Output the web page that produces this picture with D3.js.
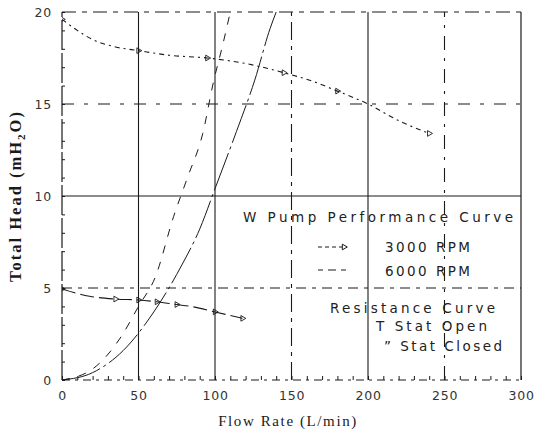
<!DOCTYPE html>
<html><head><meta charset="utf-8">
<script src="https://cdn.jsdelivr.net/npm/d3@7"></script>
<style>
body{margin:0;background:#fff;}
svg{display:block;}
</style></head>
<body>
<svg id="chart" width="535" height="436"></svg>
<script>
// ---- data ----
const xTicks = [0, 50, 100, 150, 200, 250, 300];
const yTicks = [0, 5, 10, 15, 20];

// Upper pump curve (short dash) — legend "3000 RPM"
const pumpUpperFlow = [0, 10, 20, 35, 50, 70, 95, 120, 145, 165, 180, 200, 220, 240];
const pumpUpperHead = [19.6, 19.0, 18.5, 18.1, 17.9, 17.65, 17.5, 17.2, 16.7, 16.2, 15.7, 15.0, 14.1, 13.4];
// Lower pump curve (long dash) — legend "6000 RPM"
const pumpLowerFlow = [0, 18, 35, 50, 62, 75, 84, 100, 118];
const pumpLowerHead = [4.95, 4.55, 4.4, 4.35, 4.25, 4.1, 4.0, 3.7, 3.35];
// Resistance curves
const openFlow = [0, 20, 40, 60, 78, 90, 100, 114, 126, 136, 140];
const openHead = [0, 0.4, 1.6, 3.7, 6.2, 8.2, 10.4, 13.5, 16.3, 19.1, 20];
const closedFlow = [0, 20, 39, 50, 61, 73, 82, 92, 99, 105, 110];
const closedHead = [0, 0.6, 2.4, 4.0, 5.6, 8.9, 11.0, 13.4, 16.2, 18.2, 20];

const legendTitle = "W Pump Performance Curve";
const legendSeries = ["3000 RPM", "6000 RPM"];
const legendRes = ["Resistance Curve", "T Stat Open", "\u201D Stat Closed"];

// ---- layout ----
const svg = d3.select("#chart");
const M = {left: 62, right: 521, top: 12, bottom: 380};
const x = d3.scaleLinear().domain([0, 300]).range([M.left, M.right]);
const y = d3.scaleLinear().domain([0, 20]).range([M.bottom, M.top]);
const ink = "#1a1a1a";

// grid
const g = svg.append("g");
const vStyle = {50: null, 100: null, 150: "18,6,4,6", 200: null, 250: "14,8,3,8"};
[50, 100, 150, 200, 250].forEach(v => {
  g.append("line").attr("x1", x(v)).attr("x2", x(v)).attr("y1", y(0)).attr("y2", y(20))
    .attr("stroke", ink).attr("stroke-width", 1.1)
    .attr("stroke-dasharray", vStyle[v]);
});
const hStyle = {5: "10,6,4,6", 10: null, 15: "12,10,4,10", 20: "14,6,5,6"};
[5, 10, 15, 20].forEach(v => {
  g.append("line").attr("x1", x(0)).attr("x2", x(300)).attr("y1", y(v)).attr("y2", y(v))
    .attr("stroke", ink).attr("stroke-width", 1.1)
    .attr("stroke-dasharray", hStyle[v]);
});
// axes frame
g.append("line").attr("x1", x(0)).attr("x2", x(0)).attr("y1", y(0)).attr("y2", y(20))
  .attr("stroke", ink).attr("stroke-width", 1.2).attr("stroke-dasharray", "30,3");
g.append("line").attr("x1", x(300)).attr("x2", x(300)).attr("y1", y(0)).attr("y2", y(20))
  .attr("stroke", ink).attr("stroke-width", 1.2);
g.append("line").attr("x1", x(0)).attr("x2", x(300)).attr("y1", y(0)).attr("y2", y(0))
  .attr("stroke", ink).attr("stroke-width", 1.1).attr("stroke-dasharray", "8,5,3,5");

// minor ticks via axes (inward)
const xMinor = d3.axisBottom(x).tickValues(d3.range(0, 301, 10)).tickSize(-4).tickFormat("");
svg.append("g").attr("transform", `translate(0,${y(0)})`).call(xMinor)
  .call(a => a.select(".domain").remove())
  .call(a => a.selectAll("line").attr("stroke", ink).attr("stroke-width", 1));
const yMinor = d3.axisLeft(y).tickValues(d3.range(0, 21, 1)).tickSize(-3).tickFormat("");
svg.append("g").attr("transform", `translate(${x(0)},0)`).call(yMinor)
  .call(a => a.select(".domain").remove())
  .call(a => a.selectAll("line").attr("stroke", ink).attr("stroke-width", 1));

// tick labels via axes
const xAxis = d3.axisBottom(x).tickValues(xTicks).tickSize(0).tickPadding(11);
svg.append("g").attr("transform", `translate(0,${y(0)})`).call(xAxis)
  .call(a => a.select(".domain").remove())
  .call(a => a.selectAll("text").attr("font-family", "DejaVu Sans").attr("font-size", 12.5)
    .attr("fill", "#333").attr("letter-spacing", 0.8));
const yAxis = d3.axisLeft(y).tickValues(yTicks).tickSize(0).tickPadding(10);
svg.append("g").attr("transform", `translate(${x(0)},0)`).call(yAxis)
  .call(a => a.select(".domain").remove())
  .call(a => a.selectAll("text").attr("font-family", "DejaVu Sans").attr("font-size", 12.5)
    .attr("fill", "#333").attr("letter-spacing", 0.8));

// axis titles
svg.append("text").attr("x", 288).attr("y", 426).attr("text-anchor", "middle")
  .attr("font-family", "Liberation Serif").attr("font-size", 15).attr("letter-spacing", 1.6)
  .attr("fill", ink).text("Flow Rate (L/min)");
const yt = svg.append("text").attr("transform", "translate(21,196) rotate(-90)")
  .attr("text-anchor", "middle").attr("font-family", "Liberation Serif").attr("font-size", 16.5)
  .attr("font-weight", "bold").attr("letter-spacing", 2).attr("fill", ink);
yt.append("tspan").text("Total Head (mH");
yt.append("tspan").attr("font-size", 11).attr("dy", 4).text("2");
yt.append("tspan").attr("dy", -4).text("O)");

// series
const line = d3.line().x(d => x(d[0])).y(d => y(d[1])).curve(d3.curveMonotoneX);
svg.append("clipPath").attr("id", "clip").append("rect")
  .attr("x", M.left).attr("y", M.top).attr("width", M.right - M.left).attr("height", M.bottom - M.top);
const plot = svg.append("g").attr("clip-path", "url(#clip)");

function series(fx, fy, dash, width) {
  const pts = fx.map((v, i) => [v, fy[i]]);
  plot.append("path").datum(pts).attr("d", line).attr("fill", "none")
    .attr("stroke", ink).attr("stroke-width", width).attr("stroke-dasharray", dash);
  return pts;
}
const up = series(pumpUpperFlow, pumpUpperHead, "5,4,2,4", 1.1);
const lo = series(pumpLowerFlow, pumpLowerHead, "14,5", 1.1);
plot.append("path").datum(openFlow.map((v, i) => [v, openHead[i]])).attr("d", line)
  .attr("fill", "none").attr("stroke", ink).attr("stroke-width", 1).attr("stroke-dasharray", "40,4,3,4");
plot.append("path").datum(closedFlow.map((v, i) => [v, closedHead[i]])).attr("d", line)
  .attr("fill", "none").attr("stroke", ink).attr("stroke-width", 1).attr("stroke-dasharray", "8,9");

// markers
const sym = d3.symbol().type(d3.symbolTriangle).size(14);
[[up, [0, 4, 6, 8, 10, 13]], [lo, [0, 2, 3, 4, 5, 7, 8]]].forEach(([pts, idx]) => {
  plot.selectAll(null).data(idx.map(i => pts[i])).join("path")
    .attr("d", sym).attr("transform", d => `translate(${x(d[0])},${y(d[1])}) rotate(90)`)
    .attr("fill", "none").attr("stroke", ink).attr("stroke-width", 0.9);
});

// legend
const L = svg.append("g").attr("font-family", "DejaVu Sans").attr("font-size", 13.5)
  .attr("fill", "#222");
L.append("text").attr("x", 243).attr("y", 222).attr("textLength", 270).attr("lengthAdjust", "spacing").text(legendTitle);
L.append("text").attr("x", 385).attr("y", 252).attr("textLength", 85).attr("lengthAdjust", "spacing").text(legendSeries[0]);
L.append("text").attr("x", 385).attr("y", 276).attr("textLength", 85).attr("lengthAdjust", "spacing").text(legendSeries[1]);
L.append("line").attr("x1", 318).attr("x2", 342).attr("y1", 247).attr("y2", 247)
  .attr("stroke", ink).attr("stroke-dasharray", "4,3");
L.append("path").attr("d", sym).attr("transform", "translate(344,247) rotate(90)")
  .attr("fill", "none").attr("stroke", ink);
L.append("line").attr("x1", 318).attr("x2", 349).attr("y1", 270).attr("y2", 270)
  .attr("stroke", ink).attr("stroke-dasharray", "5,5,8,5");
L.append("text").attr("x", 330).attr("y", 313).attr("textLength", 165).attr("lengthAdjust", "spacing").text(legendRes[0]);
L.append("text").attr("x", 376).attr("y", 331).attr("textLength", 111).attr("lengthAdjust", "spacing").text(legendRes[1]);
L.append("text").attr("x", 384).attr("y", 351).attr("textLength", 118).attr("lengthAdjust", "spacing").text(legendRes[2]);
</script>
</body></html>
